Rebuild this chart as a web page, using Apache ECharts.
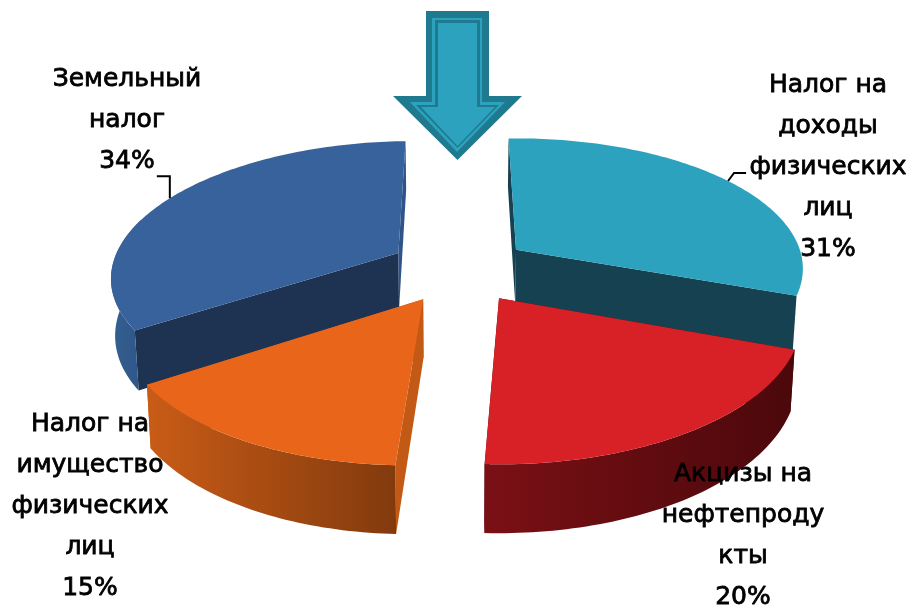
<!DOCTYPE html>
<html><head><meta charset="utf-8">
<style>html,body{margin:0;padding:0;background:#fff}#c{width:912px;height:609px}</style>
<script src="https://cdn.jsdelivr.net/npm/echarts@6/dist/echarts.min.js"></script>
</head><body><div id="c"></div>
<script>
// ---- data
const categories = ['Налог на\nдоходы\nфизических\nлиц', 'Акцизы на\nнефтепроду\nкты', 'Налог на\nимущество\nфизических\nлиц', 'Земельный\nналог'];
const shares = [31, 20, 15, 34];

// ---- styling (explode offsets, colours, label anchors)
const VIEW = {vx: 456, vy: 274, rx: 290, ry: 134, k: 0.1456, depth: 57, taper: 0.012, roll: -0.012};
const offsetX = [61.6, 41.9, -32, -59];
const offsetY = [-0.18, 0.18, 0.18, -0.165];
const topColor = ['#2da2bf', '#d82027', '#e9651a', '#38629b'];
const wallLeft = [null, '#7a1015', '#c95c17', '#34608f'];
const wallRight = [null, '#4b080b', '#823a0d', '#2f5488'];
const cutStart = ['#154150', '#4b080b', '#c25914', '#1e3252'];
const cutEnd = ['#154150', '#4b080b', '#c25914', '#2f5488'];
const drawRank = [1, 2, 3, 0];
const labelX = [828, 743, 90, 127];
const labelY = [85, 474, 424, 79];
const labelFont = 25, labelLine = 41.2;
const leaderRun = [[6, -8, 18, -8], null, null, [0, -22, -13, -22]];
const arrowLayers = [
  {color: '#1f7a90', shaftL: 426, shaftR: 489, top: 11, shoulder: 96, headL: 393, headR: 522, tip: 160},
  {color: '#2da2bf', shaftL: 432, shaftR: 482, top: 18, shoulder: 102, headL: 410, headR: 505, tip: 152},
  {color: '#1f7a90', shaftL: 435, shaftR: 480, top: 20, shoulder: 105, headL: 416, headR: 499, tip: 148},
  {color: '#2da2bf', shaftL: 438, shaftR: 477, top: 23, shoulder: 107, headL: 421, headR: 495, tip: 146}
];

const total = shares.reduce((a, b) => a + b, 0);
function project(wx, wy, z) {
  const p = 1 / (1 - VIEW.k * wy);
  const x = VIEW.vx + wx * p * (1 - VIEW.taper * z);
  const y = VIEW.vy + wy * VIEW.ry * p + z * VIEW.depth * p + VIEW.roll * (x - VIEW.vx);
  return [x, y];
}
function rimPoint(i, a, z) {
  return project(offsetX[i] + Math.sin(a) * VIEW.rx, offsetY[i] - Math.cos(a), z);
}
function apex(i, z) { return project(offsetX[i], offsetY[i], z); }
function arc(i, a0, a1, z) {
  const pts = [], n = Math.max(4, Math.ceil(Math.abs(a1 - a0) / 0.02));
  for (let s = 0; s <= n; s++) pts.push(rimPoint(i, a0 + (a1 - a0) * s / n, z));
  return pts;
}
function renderItem(params, api) {
  const i = params.dataIndex, base = drawRank[i] * 10;
  let acc = 0;
  for (let j = 0; j < i; j++) acc += shares[j];
  const v = api.value(0);
  const a0 = acc / total * 2 * Math.PI, a1 = (acc + v) / total * 2 * Math.PI;
  const kids = [];
  // straight cut faces
  [[a0, cutStart[i]], [a1, cutEnd[i]]].forEach(c => {
    kids.push({type: 'polygon', z2: base + 1,
      shape: {points: [apex(i, 0), rimPoint(i, c[0], 0), rimPoint(i, c[0], 1), apex(i, 1)]},
      style: {fill: c[1]}});
  });
  // outer wall: the part facing the viewer
  const wa0 = Math.max(a0, Math.PI / 2), wa1 = Math.min(a1, 3 * Math.PI / 2 + 0.3);
  if (wallLeft[i] && wa1 > wa0) {
    kids.push({type: 'polygon', z2: base + 2,
      shape: {points: arc(i, wa0, wa1, 0).concat(arc(i, wa0, wa1, 1).reverse())},
      style: {fill: {type: 'linear', x: 0, y: 0, x2: 1, y2: 0,
        colorStops: [{offset: 0, color: wallLeft[i]}, {offset: 1, color: wallRight[i]}]}}});
  }
  // top face
  kids.push({type: 'polygon', z2: base + 3, shape: {points: [apex(i, 0)].concat(arc(i, a0, a1, 0))},
    style: {fill: topColor[i]}});
  // label
  kids.push({type: 'text', z2: 100, style: {
    text: categories[i] + '\n' + Math.round(v / total * 100) + '%',
    x: labelX[i], y: labelY[i] + categories[i].split('\n').length * labelLine / 2,
    align: 'center', verticalAlign: 'middle', fill: '#000', stroke: '#000', lineWidth: 0.8,
    font: labelFont + 'px "DejaVu Sans"', lineHeight: labelLine}});
  // leader line from the slice's middle angle
  if (leaderRun[i]) {
    const s = rimPoint(i, (a0 + a1) / 2, 0), r = leaderRun[i];
    kids.push({type: 'polyline', z2: 90, shape: {points: [s, [s[0] + r[0], s[1] + r[1]], [s[0] + r[2], s[1] + r[3]]]},
      style: {stroke: '#000', lineWidth: 2, fill: null}});
  }
  return {type: 'group', children: kids};
}
function arrowPoints(l) {
  const mid = (l.shaftL + l.shaftR) / 2;
  return [[l.shaftL, l.top], [l.shaftR, l.top], [l.shaftR, l.shoulder], [l.headR, l.shoulder], [mid, l.tip], [l.headL, l.shoulder], [l.shaftL, l.shoulder]];
}
const chart = echarts.init(document.getElementById('c'), null, {renderer: 'canvas'});
chart.setOption({
  animation: false,
  backgroundColor: '#fff',
  graphic: arrowLayers.map((l, n) => ({type: 'polygon', z: 10 + n, silent: true, shape: {points: arrowPoints(l)}, style: {fill: l.color}})),
  series: [{type: 'custom', coordinateSystem: 'none', renderItem, silent: true,
    data: shares.map(v => [v])}]
});
</script></body></html>
